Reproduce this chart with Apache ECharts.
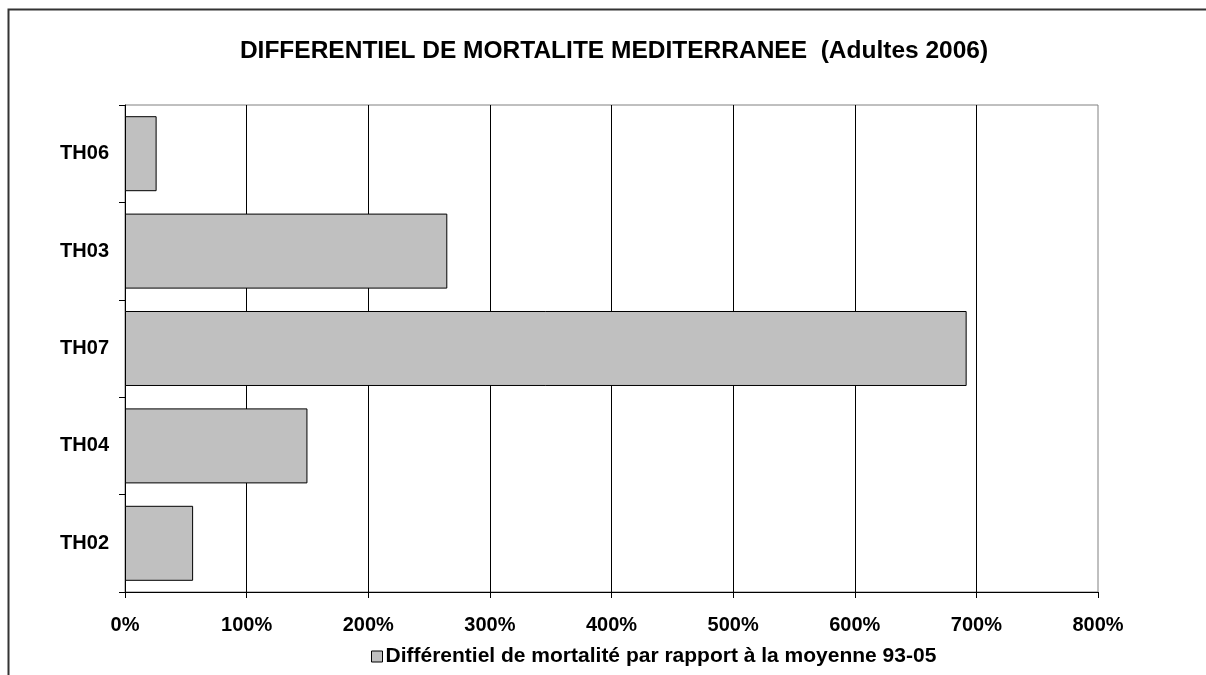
<!DOCTYPE html>
<html>
<head>
<meta charset="utf-8">
<script src="https://cdn.jsdelivr.net/npm/echarts@6/dist/echarts.min.js"></script>
<style>
  html, body { margin: 0; padding: 0; background: #fff; }
  #chart { width: 1206px; height: 675px; }
</style>
</head>
<body>
<div id="chart"></div>
<script>
const categories = ["TH02", "TH04", "TH07", "TH03", "TH06"];
const values = [56, 150, 692, 265, 26];
const seriesName = "Différentiel de mortalité par rapport à la moyenne 93-05";
const titleText = "DIFFERENTIEL DE MORTALITE MEDITERRANEE  (Adultes 2006)";

const chart = echarts.init(document.getElementById("chart"));
const font = "'Liberation Sans', Arial, sans-serif";

const option = {
    backgroundColor: "#fff",
    animation: false,
    title: {
        text: titleText,
        left: 609,
        textAlign: "center",
        top: 34,
        textStyle: { fontFamily: font, fontWeight: "bold", fontSize: 24.5, color: "#000" }
    },
    legend: {
        data: [seriesName],
        left: 366,
        top: 641,
        icon: "rect",
        itemWidth: 11,
        itemHeight: 11,
        itemGap: 4,
        itemStyle: { borderColor: "#000", borderWidth: 1 },
        textStyle: { fontFamily: font, fontWeight: "bold", fontSize: 21, color: "#000", padding: [0, 0, 0, -2] }
    },
    grid: {
        left: 125,
        right: 108,
        top: 105,
        bottom: 83,
        show: true,
        borderColor: "#808080",
        borderWidth: 1,
        containLabel: false
    },
    xAxis: {
        type: "value",
        min: 0,
        max: 800,
        interval: 100,
        axisLine: { show: true, lineStyle: { color: "#000", width: 1 } },
        axisTick: { show: true, inside: false, length: 6, lineStyle: { color: "#000" } },
        axisLabel: {
            formatter: "{value}%",
            margin: 23,
            fontFamily: font, fontWeight: "bold", fontSize: 20, color: "#000"
        },
        splitLine: { show: true, showMinLine: false, showMaxLine: false, lineStyle: { color: "#000", width: 1 } }
    },
    yAxis: {
        type: "category",
        data: categories,
        axisLine: { show: true, lineStyle: { color: "#000", width: 1 } },
        axisTick: { show: true, alignWithLabel: false, length: 6, lineStyle: { color: "#000" } },
        axisLabel: {
            margin: 16,
            fontFamily: font, fontWeight: "bold", fontSize: 20, color: "#000"
        },
        splitLine: { show: false }
    },
    series: [
        {
            name: seriesName,
            type: "bar",
            data: values,
            barCategoryGap: "23%",
            itemStyle: { color: "#c0c0c0", borderColor: "#000", borderWidth: 1 }
        }
    ],
    graphic: [
        {
            type: "polyline",
            shape: { points: [[8.5, 675], [8.5, 9.5], [1206, 9.5]] },
            style: { stroke: "#333", lineWidth: 2, fill: null },
            silent: true
        }
    ]
};
chart.setOption(option);
</script>
</body>
</html>
